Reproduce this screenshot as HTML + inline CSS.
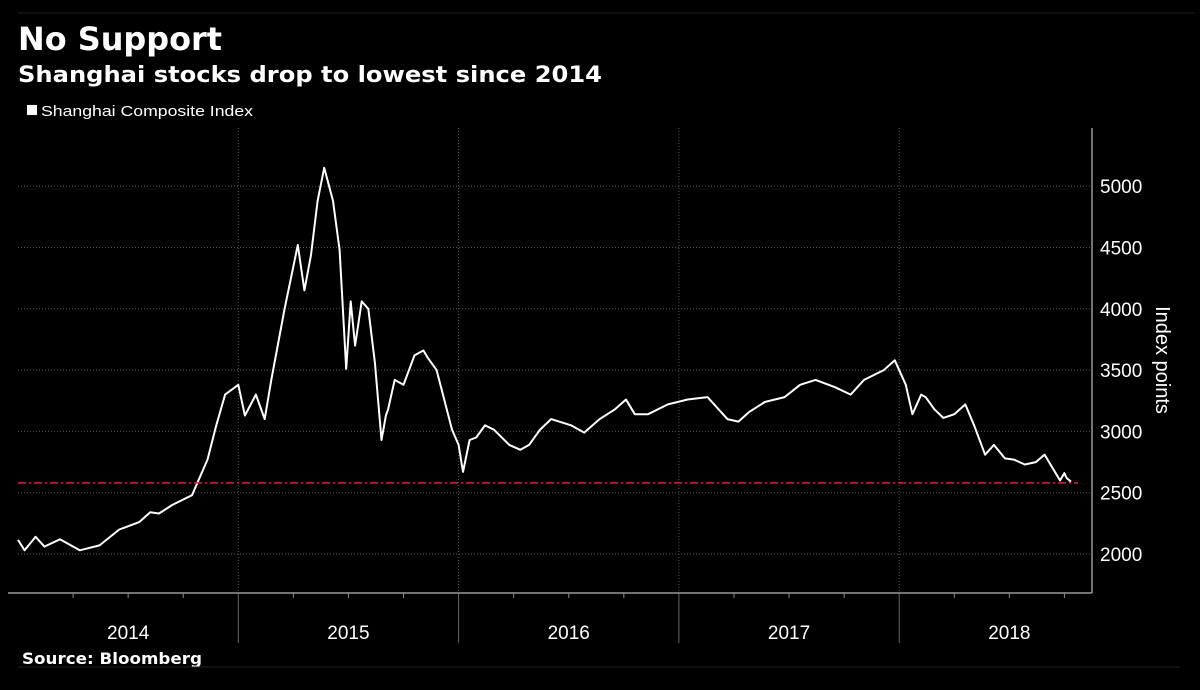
<!DOCTYPE html>
<html><head><meta charset="utf-8"><style>
body{margin:0;background:#000;width:1200px;height:690px;overflow:hidden;font-family:"Liberation Sans",sans-serif}
svg{display:block}
</style></head><body>
<svg id="chart" width="1200" height="690">
<line x1="18" y1="13" x2="1195" y2="13" stroke="#222"/>
<text x="18" y="50" fill="#fff" font-size="32" font-weight="bold" font-family="DejaVu Sans, sans-serif" textLength="204" lengthAdjust="spacingAndGlyphs">No Support</text>
<text x="18" y="82" fill="#fff" font-size="22" font-weight="bold" font-family="DejaVu Sans, sans-serif" textLength="584" lengthAdjust="spacingAndGlyphs">Shanghai stocks drop to lowest since 2014</text>
<rect x="27" y="105" width="10" height="10" fill="#fff"/>
<text x="41" y="116" fill="#fff" font-size="15" textLength="212" lengthAdjust="spacingAndGlyphs">Shanghai Composite Index</text>
<g id="grid"></g>
<g id="axes"></g>
<path id="line" fill="none" stroke="#fff" stroke-width="2" stroke-linejoin="round"/>
<line id="support" stroke="#e0202a" stroke-width="1.5" stroke-dasharray="8,3,2,3"/>
<text transform="translate(1156,360) rotate(90)" fill="#fff" font-size="20" text-anchor="middle">Index points</text>
<text x="22" y="664" fill="#fff" font-size="16" font-weight="bold" font-family="DejaVu Sans, sans-serif" textLength="180" lengthAdjust="spacingAndGlyphs">Source: Bloomberg</text>
<line x1="18" y1="667" x2="1180" y2="667" stroke="#222"/>
</svg>
<script>
const years=[2014,2015,2016,2017,2018];
const yTicks=[2000,2500,3000,3500,4000,4500,5000];
const supportLevel=2580;
const dates=[2014.0,2014.03,2014.08,2014.12,2014.19,2014.28,2014.37,2014.46,2014.55,2014.6,2014.64,2014.7,2014.79,2014.86,2014.9,2014.94,2015.0,2015.03,2015.08,2015.12,2015.15,2015.21,2015.27,2015.3,2015.33,2015.36,2015.39,2015.43,2015.46,2015.49,2015.51,2015.53,2015.56,2015.59,2015.62,2015.65,2015.67,2015.68,2015.71,2015.75,2015.8,2015.84,2015.86,2015.9,2015.97,2016.0,2016.02,2016.05,2016.08,2016.12,2016.16,2016.23,2016.28,2016.32,2016.37,2016.42,2016.51,2016.57,2016.64,2016.71,2016.76,2016.8,2016.86,2016.95,2017.04,2017.13,2017.22,2017.27,2017.32,2017.39,2017.48,2017.55,2017.62,2017.71,2017.78,2017.84,2017.93,2017.98,2018.03,2018.06,2018.1,2018.12,2018.16,2018.2,2018.25,2018.3,2018.34,2018.39,2018.43,2018.48,2018.52,2018.57,2018.62,2018.66,2018.7,2018.73,2018.75,2018.76,2018.78];
const values=[2115,2030,2140,2060,2120,2030,2070,2200,2260,2340,2330,2400,2480,2770,3050,3300,3380,3130,3300,3100,3420,4000,4520,4150,4440,4880,5150,4880,4480,3510,4060,3700,4060,4000,3560,2930,3130,3180,3420,3380,3620,3660,3600,3500,3015,2890,2670,2930,2950,3050,3015,2890,2850,2890,3015,3100,3050,2990,3100,3180,3260,3140,3140,3220,3260,3280,3100,3080,3160,3240,3280,3380,3420,3360,3300,3420,3500,3580,3380,3140,3300,3280,3180,3110,3140,3220,3050,2810,2890,2780,2770,2730,2750,2810,2690,2600,2660,2620,2590];
const X=d=>18+(d-2014)*220.3;
const Y=v=>554-(v-2000)/500*61.3;
const ns="http://www.w3.org/2000/svg";
const grid=document.getElementById('grid'),axes=document.getElementById('axes');
function mk(tag,attrs,parent){const e=document.createElementNS(ns,tag);for(const k in attrs)e.setAttribute(k,attrs[k]);parent.appendChild(e);return e;}
yTicks.forEach(v=>{
 const g=mk('line',{x1:18,x2:1092,y1:Y(v),y2:Y(v),stroke:'#555','stroke-dasharray':'1,2'},grid);
 
 
 const t=mk('text',{x:1100,y:Y(v)+7,fill:'#fff','font-size':19},axes);
 t.textContent=v;
 
 
});
years.forEach((yr,i)=>{
 if(i>0){
  const g=mk('line',{x1:X(yr),x2:X(yr),y1:128,y2:593,stroke:'#555','stroke-dasharray':'1,2'},grid);
  
  
  const s=mk('line',{x1:X(yr),x2:X(yr),y1:593,y2:643,stroke:'#666'},axes);
  
  
 }
 for(let q=1;q<4;q++){
  const tk=mk('line',{x1:X(yr+q/4),x2:X(yr+q/4),y1:593,y2:598,stroke:'#888'},axes);
  
  
 }
 const t=mk('text',{x:X(yr+0.5),y:639,fill:'#fff','font-size':19,'text-anchor':'middle'},axes);
 t.textContent=yr;
 
 
});
const ax=mk('line',{x1:8,x2:1092,y1:593,y2:593,stroke:'#999','stroke-width':1.5},axes);


const ay=mk('line',{x1:1092,x2:1092,y1:128,y2:593,stroke:'#999','stroke-width':1.5},axes);


document.getElementById('line').setAttribute('d',dates.map((d,i)=>(i?'L':'M')+X(d).toFixed(1)+','+Y(values[i]).toFixed(1)).join(''));
const sp=document.getElementById('support');
sp.setAttribute('x1',18);sp.setAttribute('x2',1078);sp.setAttribute('y1',Y(supportLevel));sp.setAttribute('y2',Y(supportLevel));
</script>
</body></html>
